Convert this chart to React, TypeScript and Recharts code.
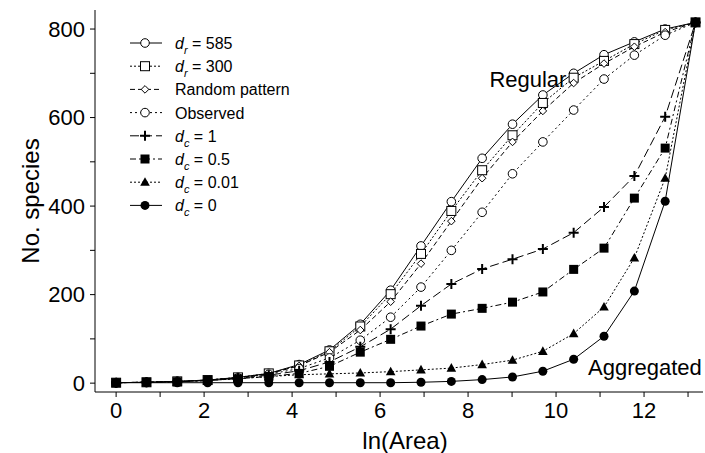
import React from 'react';
import { LineChart, Line, XAxis, YAxis, ReferenceDot } from 'recharts';

// ln(Area), area doubling each step
const lnArea = [0, 0.69, 1.39, 2.08, 2.77, 3.47, 4.16, 4.85, 5.55, 6.24, 6.93, 7.62, 8.32, 9.01, 9.7, 10.4, 11.09, 11.78, 12.48, 13.17];

const dr585 = [1, 2, 4, 7, 13, 22, 42, 75, 133, 210, 310, 410, 508, 585, 651, 700, 742, 771, 800, 815];
const dr300 = [1, 2, 4, 7, 13, 22, 40, 72, 128, 201, 292, 389, 481, 560, 633, 690, 728, 766, 798, 815];
const randomPattern = [1, 2, 4, 7, 12, 21, 39, 70, 120, 184, 270, 366, 463, 545, 615, 678, 722, 760, 793, 815];
const observed = [1, 2, 4, 7, 12, 20, 33, 57, 97, 149, 217, 300, 386, 473, 545, 617, 687, 741, 786, 815];
const dc1 = [1, 2, 3, 6, 11, 18, 28, 48, 82, 122, 175, 224, 258, 280, 303, 340, 398, 468, 602, 815];
const dc05 = [1, 2, 3, 6, 10, 15, 22, 38, 70, 99, 129, 156, 169, 183, 206, 257, 305, 418, 531, 815];
const dc001 = [1, 2, 3, 6, 10, 15, 19, 21, 23, 26, 30, 34, 42, 52, 72, 112, 172, 283, 463, 815];
const dc0 = [1, 1, 1, 1, 1, 1, 1, 1, 1, 1, 2, 4, 8, 14, 27, 54, 106, 208, 411, 815];

const xTicks = [0, 1, 2, 3, 4, 5, 6, 7, 8, 9, 10, 11, 12, 13];
const yTicks = [0, 100, 200, 300, 400, 500, 600, 700, 800];

const data = lnArea.map((x, i) => ({
  x,
  dr585: dr585[i],
  dr300: dr300[i],
  randomPattern: randomPattern[i],
  observed: observed[i],
  dc1: dc1[i],
  dc05: dc05[i],
  dc001: dc001[i],
  dc0: dc0[i],
}));

type MarkerKind = 'openCircle' | 'openSquare' | 'diamond' | 'plus' | 'filledSquare' | 'triangle' | 'dot';

const series: { key: string; marker: MarkerKind; dash?: string; sub?: string; value?: string; text?: string }[] = [
  { key: 'dr585', marker: 'openCircle', sub: 'r', value: '585' },
  { key: 'dr300', marker: 'openSquare', dash: '2 2', sub: 'r', value: '300' },
  { key: 'randomPattern', marker: 'diamond', dash: '5 3', text: 'Random pattern' },
  { key: 'observed', marker: 'openCircle', dash: '2 3', text: 'Observed' },
  { key: 'dc1', marker: 'plus', dash: '9 4', sub: 'c', value: '1' },
  { key: 'dc05', marker: 'filledSquare', dash: '6 3 2 3', sub: 'c', value: '0.5' },
  { key: 'dc001', marker: 'triangle', dash: '2 2', sub: 'c', value: '0.01' },
  { key: 'dc0', marker: 'dot', sub: 'c', value: '0' },
];

const FONT = '"Liberation Sans", Arial, Helvetica, sans-serif';

function Marker({ kind, cx, cy }: { kind: MarkerKind; cx: number; cy: number }) {
  switch (kind) {
    case 'openCircle':
      return <circle cx={cx} cy={cy} r={4.3} fill="#fff" stroke="#000" strokeWidth={1} />;
    case 'openSquare':
      return <rect x={cx - 4.5} y={cy - 4.5} width={9} height={9} fill="#fff" stroke="#000" strokeWidth={1} />;
    case 'diamond':
      return (
        <polygon
          points={`${cx},${cy - 3.8} ${cx + 3.8},${cy} ${cx},${cy + 3.8} ${cx - 3.8},${cy}`}
          fill="#fff"
          stroke="#000"
          strokeWidth={1}
        />
      );
    case 'plus':
      return <path d={`M${cx - 5},${cy}H${cx + 5}M${cx},${cy - 5}V${cy + 5}`} stroke="#000" strokeWidth={2} />;
    case 'filledSquare':
      return <rect x={cx - 4.5} y={cy - 4.5} width={9} height={9} fill="#000" />;
    case 'triangle':
      return <polygon points={`${cx},${cy - 5} ${cx + 4.8},${cy + 3.6} ${cx - 4.8},${cy + 3.6}`} fill="#000" />;
    default:
      return <circle cx={cx} cy={cy} r={4.5} fill="#000" />;
  }
}

function LegendBox() {
  return (
    <svg width={200} height={200} style={{ position: 'absolute', left: 120, top: 30, overflow: 'visible' }}>
      {series.map((s, i) => {
        const y = 13 + i * 23.2;
        return (
          <g key={s.key}>
            <line x1={10} x2={42} y1={y} y2={y} stroke="#000" strokeWidth={1} strokeDasharray={s.dash} />
            <Marker kind={s.marker} cx={25} cy={y} />
            <text x={55} y={y + 6} fontFamily={FONT} fontSize={16} fill="#000">
              {s.text ? (
                s.text
              ) : (
                <>
                  <tspan fontStyle="italic">d</tspan>
                  <tspan fontStyle="italic" fontSize={11} dy={5}>{s.sub}</tspan>
                  <tspan dy={-5}>{` = ${s.value}`}</tspan>
                </>
              )}
            </text>
          </g>
        );
      })}
    </svg>
  );
}

const tickStyle = { fontSize: 22, fontFamily: FONT, fill: '#000' };
const labelStyle = { fontSize: 24, fontFamily: FONT, fill: '#000' };
const noteStyle = { fontSize: 22, fontFamily: FONT, fill: '#000' };

export default function App() {
  return (
    <div style={{ position: 'absolute', left: 0, top: 0, width: 705, height: 453, background: '#fff' }}>
      <LineChart width={705} height={453} data={data} margin={{ top: 10, right: 2, bottom: 0, left: 0 }}>
        <XAxis
          dataKey="x"
          type="number"
          domain={[-0.48, 13.34]}
          ticks={xTicks}
          allowDataOverflow
          height={61}
          tickSize={5}
          tickMargin={5}
          tick={tickStyle}
          tickFormatter={(v: number) => (v % 2 === 0 ? String(v) : '')}
          stroke="#000"
          label={{ value: 'ln(Area)', position: 'insideBottom', offset: 4, dx: 6, style: labelStyle }}
        />
        <XAxis xAxisId="top" dataKey="x" type="number" orientation="top" domain={[-0.48, 13.34]} height={0} tick={false} stroke="#000" />
        <YAxis
          type="number"
          domain={[-20, 843]}
          ticks={yTicks}
          allowDataOverflow
          width={95}
          tickSize={5}
          tickMargin={5}
          tick={tickStyle}
          tickFormatter={(v: number) => (v % 200 === 0 ? String(v) : '')}
          stroke="#000"
          label={{ value: 'No. species', angle: -90, position: 'insideLeft', offset: 30, style: { ...labelStyle, textAnchor: 'middle' } }}
        />
        <YAxis yAxisId="right" orientation="right" type="number" domain={[-20, 843]} width={0} tick={false} stroke="#000" />
        {series.map((s) => (
          <Line
            key={s.key}
            dataKey={s.key}
            type="linear"
            stroke="#000"
            strokeWidth={1}
            strokeDasharray={s.dash}
            isAnimationActive={false}
            activeDot={false}
            dot={(p: any) => <Marker key={`${s.key}-${p.index}`} kind={s.marker} cx={p.cx} cy={p.cy} />}
          />
        ))}
        <ReferenceDot x={9.36} y={687} r={0} fill="none" stroke="none" label={{ value: 'Regular', position: 'center', style: noteStyle }} />
        <ReferenceDot x={12.02} y={36} r={0} fill="none" stroke="none" label={{ value: 'Aggregated', position: 'center', style: noteStyle }} />
      </LineChart>
      <LegendBox />
    </div>
  );
}
